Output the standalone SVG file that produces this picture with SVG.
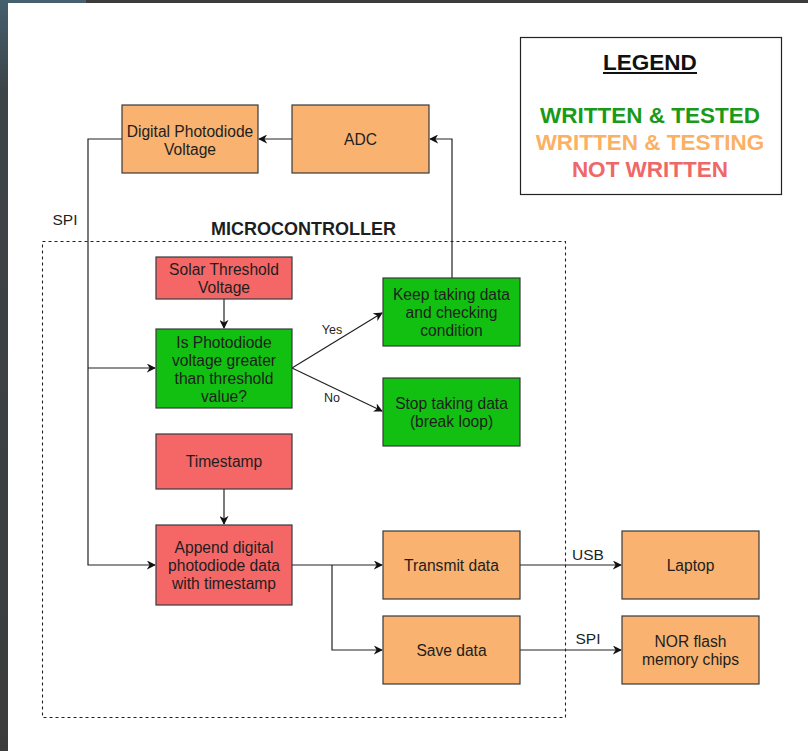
<svg xmlns="http://www.w3.org/2000/svg" width="808" height="751" viewBox="0 0 808 751">
<defs>
<style>
.box{stroke:#36393d;stroke-width:1.2}
.or{fill:#f9b26f}
.rd{fill:#f56767}
.gr{fill:#12c012}
.t{font-family:"Liberation Sans",Arial,sans-serif;font-size:15.6px;fill:#1e1e1e;text-anchor:middle}
.lbl{font-family:"Liberation Sans",Arial,sans-serif;fill:#1e1e1e;text-anchor:middle}
.ln{fill:none;stroke:#222;stroke-width:1.2}
.lg{font-family:"Liberation Sans",Arial,sans-serif;font-size:22.5px;font-weight:bold;text-anchor:middle}
</style>
<marker id="arr" viewBox="0 0 10 10" refX="9" refY="5" markerWidth="9" markerHeight="9" markerUnits="userSpaceOnUse" orient="auto">
<path d="M0,0 L10,5 L0,10 L3,5 Z" fill="#111"/>
</marker>
<linearGradient id="side" x1="0" y1="0" x2="0" y2="1">
<stop offset="0" stop-color="#44606e"/>
<stop offset="0.12" stop-color="#3d4448"/>
<stop offset="1" stop-color="#3c3c3c"/>
</linearGradient>
</defs>
<rect x="0" y="0" width="808" height="751" fill="#ffffff"/>
<rect x="0" y="0" width="808" height="3" fill="#3c3c3c"/>
<rect x="0" y="0" width="86" height="3" fill="#46606e"/>
<rect x="0" y="0" width="8" height="751" fill="url(#side)"/>

<g id="container">
<rect x="42.5" y="241.5" width="523" height="476" fill="none" stroke="#222" stroke-width="1.1" stroke-dasharray="3 3"/>
<text x="303.5" y="235" class="lbl" style="font-size:18px;font-weight:bold">MICROCONTROLLER</text>
</g>

<g id="legend">
<rect x="520.5" y="37.5" width="261" height="157" fill="#fff" stroke="#222" stroke-width="1.2"/>
<text x="650" y="70" class="lg" fill="#111">LEGEND</text>
<line x1="603" y1="73" x2="697" y2="73" stroke="#111" stroke-width="1.8"/>
<text x="650" y="123" class="lg" fill="#199a19">WRITTEN &amp; TESTED</text>
<text x="650" y="150" class="lg" fill="#fcb064">WRITTEN &amp; TESTING</text>
<text x="650" y="177" class="lg" fill="#ee6868">NOT WRITTEN</text>
</g>

<g id="connectors">
<path class="ln" d="M292,139 L259,139" marker-end="url(#arr)"/>
<path class="ln" d="M452,278 L452,139 L430,139" marker-end="url(#arr)"/>
<path class="ln" d="M122,139 L88,139 L88,565 L155,565" marker-end="url(#arr)"/>
<path class="ln" d="M88,368 L155,368" marker-end="url(#arr)"/>
<path class="ln" d="M224,299 L224,328" marker-end="url(#arr)"/>
<path class="ln" d="M292,368 L382,313" marker-end="url(#arr)"/>
<path class="ln" d="M292,368 L382,411" marker-end="url(#arr)"/>
<path class="ln" d="M224,489 L224,524" marker-end="url(#arr)"/>
<path class="ln" d="M292,565 L382,565" marker-end="url(#arr)"/>
<path class="ln" d="M332,565 L332,650 L382,650" marker-end="url(#arr)"/>
<path class="ln" d="M520,565 L621,565" marker-end="url(#arr)"/>
<path class="ln" d="M520,650 L621,650" marker-end="url(#arr)"/>
<text x="65" y="225" class="lbl" style="font-size:15.5px">SPI</text>
<text x="332" y="334" class="lbl" style="font-size:12.5px">Yes</text>
<text x="332" y="402" class="lbl" style="font-size:12.5px">No</text>
<text x="588" y="560" class="lbl" style="font-size:15.5px">USB</text>
<text x="588" y="644" class="lbl" style="font-size:15.5px">SPI</text>
</g>

<g id="digital-photodiode-voltage">
<rect x="122" y="105" width="136" height="68" class="box or"/>
<text class="t" x="190" y="137">Digital Photodiode</text>
<text class="t" x="190" y="155">Voltage</text>
</g>

<g id="adc">
<rect x="292" y="105" width="137" height="68" class="box or"/>
<text class="t" x="360.5" y="145">ADC</text>
</g>

<g id="solar-threshold">
<rect x="156" y="257" width="136" height="42" class="box rd"/>
<text class="t" x="224" y="275">Solar Threshold</text>
<text class="t" x="224" y="293">Voltage</text>
</g>

<g id="is-photodiode">
<rect x="156" y="329" width="136" height="79" class="box gr"/>
<text class="t" x="224" y="348">Is Photodiode</text>
<text class="t" x="224" y="366">voltage greater</text>
<text class="t" x="224" y="384">than threshold</text>
<text class="t" x="224" y="402">value?</text>
</g>

<g id="keep-taking">
<rect x="383" y="278" width="137" height="68" class="box gr"/>
<text class="t" x="451.5" y="300">Keep taking data</text>
<text class="t" x="451.5" y="318">and checking</text>
<text class="t" x="451.5" y="336">condition</text>
</g>

<g id="stop-taking">
<rect x="383" y="378" width="137" height="68" class="box gr"/>
<text class="t" x="451.5" y="409">Stop taking data</text>
<text class="t" x="451.5" y="427">(break loop)</text>
</g>

<g id="timestamp">
<rect x="156" y="434" width="136" height="55" class="box rd"/>
<text class="t" x="224" y="467">Timestamp</text>
</g>

<g id="append">
<rect x="156" y="525" width="136" height="80" class="box rd"/>
<text class="t" x="224" y="553">Append digital</text>
<text class="t" x="224" y="571">photodiode data</text>
<text class="t" x="224" y="589">with timestamp</text>
</g>

<g id="transmit">
<rect x="383" y="531" width="137" height="68" class="box or"/>
<text class="t" x="451.5" y="571">Transmit data</text>
</g>

<g id="save">
<rect x="383" y="616" width="137" height="68" class="box or"/>
<text class="t" x="451.5" y="656">Save data</text>
</g>

<g id="laptop">
<rect x="622" y="531" width="137" height="68" class="box or"/>
<text class="t" x="690.5" y="571">Laptop</text>
</g>

<g id="nor-flash">
<rect x="622" y="616" width="137" height="68" class="box or"/>
<text class="t" x="690.5" y="647">NOR flash</text>
<text class="t" x="690.5" y="665">memory chips</text>
</g>
</svg>
